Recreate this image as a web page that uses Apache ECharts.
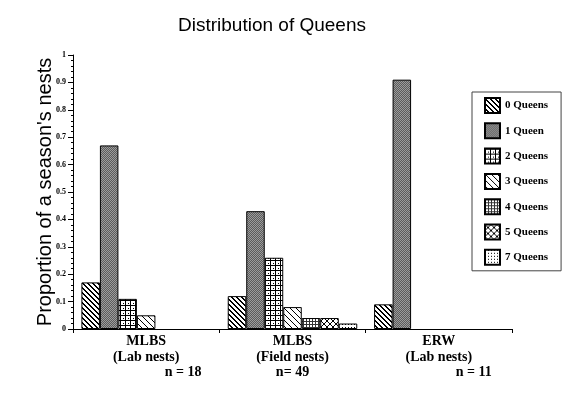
<!DOCTYPE html>
<html>
<head>
<meta charset="utf-8">
<script src="https://cdn.jsdelivr.net/npm/echarts@6/dist/echarts.min.js"></script>
<style>
  html, body { margin: 0; padding: 0; background: #fff; }
  #chart { width: 579px; height: 399px; }
</style>
</head>
<body>
<div id="chart"></div>
<script>
// data
var sites = ['MLBS', 'MLBS', 'ERW'];
var nestTypes = ['(Lab nests)', '(Field nests)', '(Lab nests)'];
var sampleSizes = ['n = 18', 'n= 49', 'n = 11'];
var queenGroups = ['0 Queens', '1 Queen', '2 Queens', '3 Queens', '4 Queens', '5 Queens', '7 Queens'];
var q0 = [0.17, 0.12, 0.09];
var q1 = [0.67, 0.43, 0.91];
var q2 = [0.11, 0.26, null];
var q3 = [0.05, 0.08, null];
var q4 = [null, 0.04, null];
var q5 = [null, 0.04, null];
var q7 = [null, 0.02, null];
var yTicks = [0, 0.1, 0.2, 0.3, 0.4, 0.5, 0.6, 0.7, 0.8, 0.9, 1];

var values = [q0, q1, q2, q3, q4, q5, q7];

// small tiled fills, like the old print hatchings
function makePattern(size, draw) {
  var c = document.createElement('canvas');
  c.width = c.height = size;
  var ctx = c.getContext('2d');
  ctx.fillStyle = '#fff';
  ctx.fillRect(0, 0, size, size);
  ctx.fillStyle = '#000';
  draw(ctx, size);
  return { image: c, repeat: 'repeat' };
}

var fills = [
  makePattern(5, function (ctx, s) {      // heavy backslash
    for (var i = 0; i < s; i++) {
      ctx.fillRect(i, i, 1, 1);
      ctx.fillRect(i, (i + 1) % s, 1, 1);
    }
  }),
  makePattern(2, function (ctx) {         // dark grey screen
    ctx.fillStyle = '#5c5c5c'; ctx.fillRect(0, 0, 2, 2);
    ctx.fillStyle = '#9c9c9c'; ctx.fillRect(0, 0, 1, 1); ctx.fillRect(1, 1, 1, 1);
  }),
  makePattern(5, function (ctx) {         // white cells with a dot
    ctx.fillRect(0, 0, 5, 1); ctx.fillRect(0, 0, 1, 5);
    ctx.fillRect(3, 3, 1, 1);
  }),
  makePattern(6, function (ctx, s) {      // light backslash
    for (var i = 0; i < s; i++) ctx.fillRect(i, i, 1, 1);
  }),
  makePattern(3, function (ctx) {         // fine grid
    ctx.fillStyle = '#333';
    ctx.fillRect(0, 0, 3, 1); ctx.fillRect(0, 0, 1, 3);
  }),
  makePattern(6, function (ctx, s) {      // cross hatch
    for (var i = 0; i < s; i++) {
      ctx.fillRect(i, i, 1, 1);
      ctx.fillRect(s - 1 - i, i, 1, 1);
    }
  }),
  makePattern(3, function (ctx) {         // sparse dots
    ctx.fillRect(0, 0, 1, 1);
  })
];

var chart = echarts.init(document.getElementById('chart'));

var serif = 'Liberation Serif';
var labelBold = { fontFamily: serif, fontWeight: 'bold', fontSize: 14, lineHeight: 15.5, color: '#000' };

var option = {
  animation: false,
  backgroundColor: '#fff',
  title: {
    text: 'Distribution of Queens',
    left: 173,
    top: 11,
    textStyle: { fontFamily: 'Liberation Sans', fontSize: 19, fontWeight: 'normal', color: '#000' }
  },
  grid: { left: 73, right: 67, top: 55, bottom: 70 },
  legend: {
    orient: 'vertical',
    left: 472,
    top: 92,
    padding: [5, 13, 5, 12],
    itemWidth: 15,
    itemHeight: 15,
    itemGap: 8.3,
    icon: 'rect',
    borderColor: '#444',
    borderWidth: 1,
    data: queenGroups,
    textStyle: { fontFamily: serif, fontWeight: 'bold', fontSize: 11, color: '#000' }
  },
  xAxis: {
    type: 'category',
    data: sites,
    axisLine: { lineStyle: { color: '#000', width: 1 } },
    axisTick: { show: true, length: 4, lineStyle: { color: '#000' } },
    axisLabel: {
      margin: 5,
      interval: 0,
      formatter: function (v, i) {
        return '{a|' + v + '}\n{a|' + nestTypes[i] + '}\n{n' + i + '|' + sampleSizes[i] + '}';
      },
      rich: {
        a: labelBold,
        n0: Object.assign({}, labelBold, { padding: [0, 0, 0, 74] }),
        n1: labelBold,
        n2: Object.assign({}, labelBold, { padding: [0, 0, 0, 70] })
      }
    }
  },
  yAxis: {
    type: 'value',
    min: yTicks[0],
    max: yTicks[yTicks.length - 1],
    interval: 0.1,
    name: "Proportion of a season's nests",
    nameLocation: 'middle',
    nameGap: 18,
    nameMoveOverlap: false,
    nameTextStyle: { fontFamily: 'Liberation Sans', fontSize: 20, color: '#000' },
    axisLine: { show: true, lineStyle: { color: '#000', width: 1 } },
    axisTick: { show: true, length: 5, lineStyle: { color: '#000' } },
    minorTick: { show: true, splitNumber: 5, length: 2, lineStyle: { color: '#000' } },
    splitLine: { show: false },
    axisLabel: { margin: 7, fontFamily: serif, fontWeight: 'bold', fontSize: 8, color: '#000' }
  },
  series: queenGroups.map(function (name, k) {
    return {
      name: name,
      type: 'bar',
      data: values[k],
      barGap: 0,
      barCategoryGap: '11.5%',
      itemStyle: { color: fills[k], borderColor: '#000', borderWidth: 1 }
    };
  })
};

chart.setOption(option);
</script>
</body>
</html>
